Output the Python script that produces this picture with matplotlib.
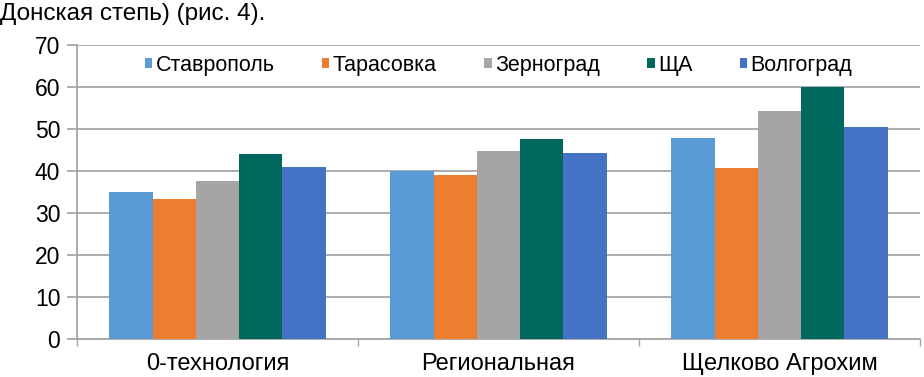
import matplotlib.pyplot as plt
import numpy as np

# Data
categories = ["0-технология", "Региональная", "Щелково Агрохим"]
series_names = ["Ставрополь", "Тарасовка", "Зерноград", "ЩА", "Волгоград"]
stavropol = [35.0, 40.0, 47.8]
tarasovka = [33.4, 39.0, 40.8]
zernograd = [37.6, 44.8, 54.4]
scha = [44.1, 47.7, 59.9]
volgograd = [41.0, 44.3, 50.4]
y_ticks = [0, 10, 20, 30, 40, 50, 60, 70]

series_values = [stavropol, tarasovka, zernograd, scha, volgograd]
colors = ["#5b9bd5", "#ed7d31", "#a5a5a5", "#00685f", "#4472c4"]

plt.rcParams['font.family'] = ['Liberation Sans', 'DejaVu Sans']

fig = plt.figure(figsize=(9.24, 3.77), dpi=100)
ax = fig.add_axes([77 / 924, 1 - 339 / 377, 843 / 924, 294 / 377])

x = np.arange(len(categories))
bar_w = 0.154
for i, (name, vals) in enumerate(zip(series_names, series_values)):
    offset = (i - 2) * bar_w
    ax.bar(x + offset, vals, width=bar_w, color=colors[i], label=name, zorder=3)

ax.set_xlim(-0.5, len(categories) - 0.5)
ax.set_ylim(0, 70)
ax.set_yticks(y_ticks)
ax.set_yticklabels([str(t) for t in y_ticks], fontsize=16.5)
ax.yaxis.grid(True, color="#a6a6a6", linewidth=1.3, zorder=0)
ax.set_axisbelow(True)

ax.set_xticks(x)
ax.set_xticklabels(categories, fontsize=17)
ax.set_xticks(np.arange(len(categories) + 1) - 0.5, minor=True)
ax.tick_params(axis='x', which='major', length=0, pad=10)
ax.tick_params(axis='x', which='minor', length=5, color="#a6a6a6", width=1)
ax.tick_params(axis='y', length=7, color="#a6a6a6", width=1.3, pad=5)

for side in ["top", "right"]:
    ax.spines[side].set_visible(False)
ax.spines["left"].set_color("#a6a6a6")
ax.spines["left"].set_linewidth(1.3)
ax.spines["bottom"].set_color("#a6a6a6")
ax.spines["bottom"].set_linewidth(1.3)

leg = ax.legend(loc="center", bbox_to_anchor=(0.5, 0.93), ncol=5, frameon=False,
                fontsize=15.5, handlelength=0.35, handleheight=0.35, handletextpad=0.15,
                columnspacing=2.2, borderpad=0.1)

fig.text(0.0, 1 - 14 / 377, "Донская степь) (рис. 4).", fontsize=17.5, va="center", ha="left")

fig.savefig("out.png", dpi=100)
